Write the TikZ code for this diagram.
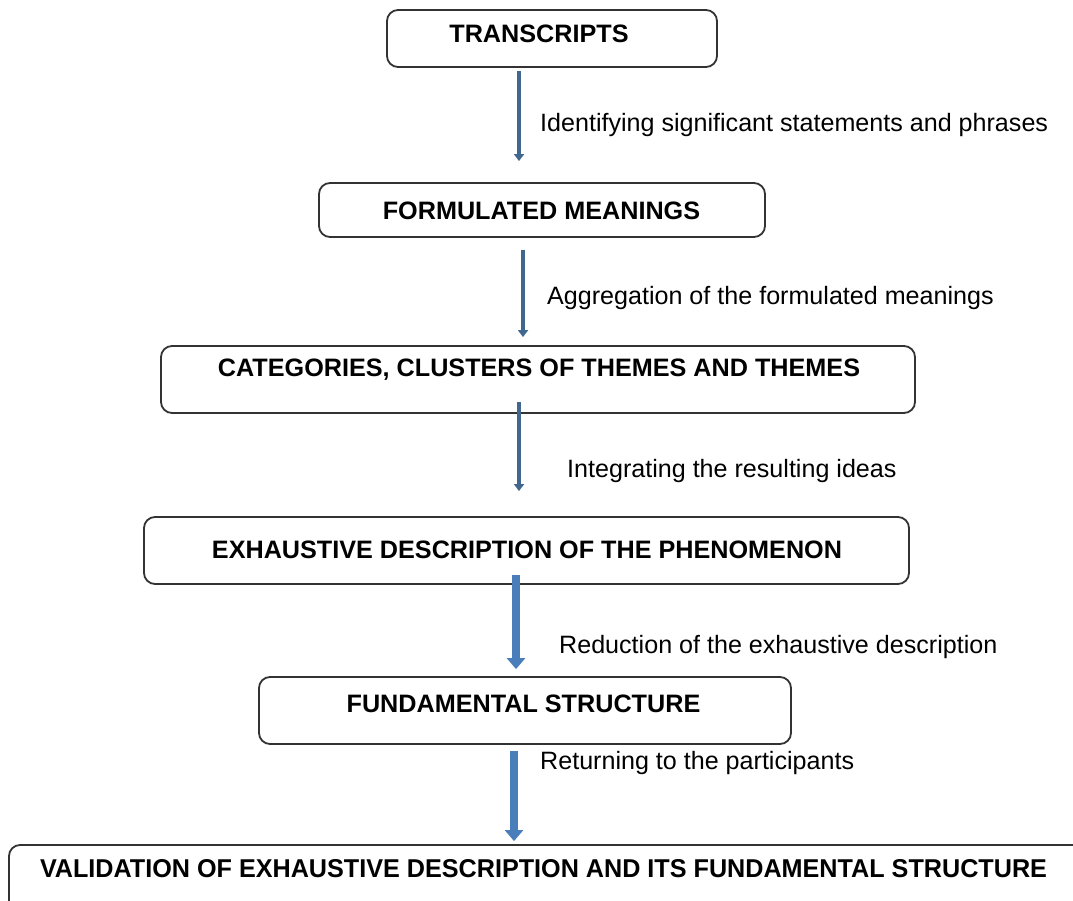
\documentclass[tikz,border=0pt]{standalone}
\usepackage{fontspec}
\setmainfont{Liberation Sans}
\usetikzlibrary{arrows.meta}
\definecolor{boxline}{HTML}{333333}
\definecolor{thinblue}{HTML}{41678F}
\definecolor{thickblue}{HTML}{4A7EBB}
\tikzset{
  stage/.style={draw=boxline, line width=1.8pt, rounded corners=11pt, inner sep=0pt},
  stagetext/.style={font=\fontsize{25.2}{29}\selectfont\bfseries, inner sep=0pt, anchor=center},
  steplabel/.style={font=\fontsize{25.1}{29}\selectfont, inner sep=0pt, anchor=base west},
  thinarrow/.style={draw=thinblue, line width=4pt, -{Triangle[width=10pt,length=7pt]}},
  thickarrow/.style={draw=thickblue, line width=8pt, -{Triangle[width=18pt,length=11pt]}}
}
\begin{document}
\begin{tikzpicture}[x=1pt,y=-1pt]
\useasboundingbox (0,0) rectangle (1073,901);

% stage boxes
\node[stage, minimum width=330pt, minimum height=57pt] (b1) at (552,38.5) {};
\node[stage, minimum width=446pt, minimum height=54pt] (b2) at (542,210) {};
\node[stage, minimum width=754pt, minimum height=67pt] (b3) at (538,379.5) {};
\node[stage, minimum width=765pt, minimum height=67pt] (b4) at (526.5,550.5) {};
\node[stage, minimum width=532pt, minimum height=67pt] (b5) at (525,710.5) {};
\node[stage, minimum width=1076pt, minimum height=70pt] (b6) at (547,880) {};

% stage titles
\node[stagetext] (t1) at (539,33.5) {TRANSCRIPTS};
\node[stagetext] (t2) at (541.5,211) {FORMULATED MEANINGS};
\node[stagetext] (t3) at (539,370) {CATEGORIES, CLUSTERS OF THEMES AND THEMES};
\node[stagetext] (t4) at (527,550) {EXHAUSTIVE DESCRIPTION OF THE PHENOMENON};
\node[stagetext] (t5) at (523.5,704) {FUNDAMENTAL STRUCTURE};
\node[inner sep=0pt] (t6) at (543.5,869)
  {\resizebox{1007pt}{18pt}{\bfseries VALIDATION OF EXHAUSTIVE DESCRIPTION AND ITS FUNDAMENTAL STRUCTURE}};

% connectors
\draw[thinarrow] ([xshift=-33pt,yshift=-3pt]b1.south) -- ([xshift=-23pt,yshift=21pt]b2.north);
\draw[thinarrow] ([xshift=-19pt,yshift=-12pt]b2.south) -- ([xshift=-15pt,yshift=8pt]b3.north);
\draw[thinarrow] ([xshift=-19pt,yshift=12pt]b3.south) -- ([xshift=-7.5pt,yshift=25pt]b4.north);
\draw[thickarrow] ([xshift=-10.5pt,yshift=10pt]b4.south) -- ([xshift=-9pt,yshift=7pt]b5.north);
\draw[thickarrow] ([xshift=-11pt,yshift=-6pt]b5.south) -- ([xshift=-33pt,yshift=3pt]b6.north);

% step descriptions
\node[steplabel] (l1) at (540,132) {Identifying significant statements and phrases};
\node[steplabel] (l2) at (547,304) {Aggregation of the formulated meanings};
\node[steplabel] (l3) at (567,477) {Integrating the resulting ideas};
\node[steplabel] (l4) at (559,653) {Reduction of the exhaustive description};
\node[steplabel] (l5) at (540,769) {Returning to the participants};
\end{tikzpicture}
\end{document}
